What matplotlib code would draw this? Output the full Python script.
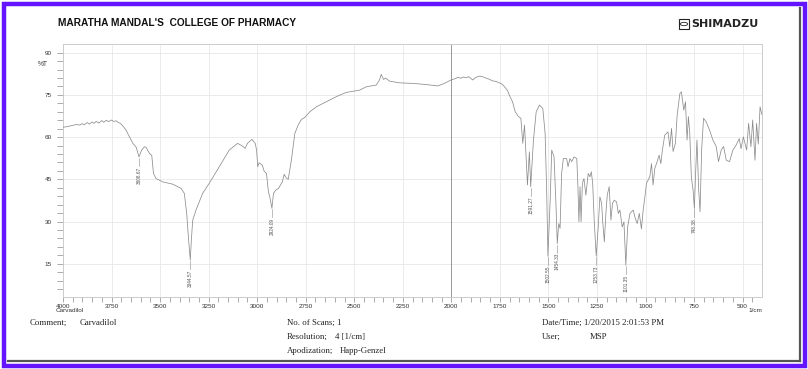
import numpy as np
import matplotlib
matplotlib.use("Agg")
import matplotlib.pyplot as plt
from matplotlib.patches import Rectangle, Circle
from matplotlib.lines import Line2D

# Spectrum (wavenumber 1/cm, %T)
wavenumber = [
    4000, 3975, 3950, 3930, 3914, 3900, 3890, 3875, 3865, 3850, 3840, 3829,
    3815, 3800, 3790, 3777, 3765, 3750, 3740, 3726, 3715, 3705, 3692, 3675,
    3658, 3640, 3623, 3608.67, 3595, 3580, 3572, 3563, 3551, 3543, 3534, 3521,
    3486, 3435, 3392, 3375, 3363, 3353, 3344.57, 3339, 3332, 3315, 3281, 3247,
    3195, 3144, 3101, 3075, 3062, 3050, 3027, 3010, 3003, 2997, 2990, 2973,
    2964, 2952, 2942, 2935, 2924.09, 2916, 2904, 2890, 2878, 2870, 2861, 2850,
    2840, 2824, 2806, 2789, 2772, 2755, 2729, 2695, 2644, 2592, 2541, 2473,
    2438, 2387, 2370, 2361, 2349, 2339, 2318, 2267, 2199, 2130, 2070, 2036,
    2002, 1980, 1965, 1950, 1940, 1925, 1910, 1890, 1875, 1856, 1840, 1822,
    1805, 1788, 1770, 1753, 1740, 1730, 1719, 1710, 1702, 1695, 1685, 1671,
    1654, 1642, 1632, 1623, 1608, 1598, 1591.27, 1577, 1563, 1546, 1529, 1517,
    1509, 1502.55, 1491, 1483, 1471, 1462, 1454.33, 1447, 1440, 1432, 1423,
    1406, 1399, 1389, 1380, 1368, 1354, 1348, 1343, 1337, 1332, 1325, 1317,
    1307, 1295, 1286, 1279, 1272, 1264, 1253.73, 1243, 1235, 1226, 1221, 1212,
    1204, 1197, 1187, 1178, 1170, 1161, 1149, 1140, 1132, 1120, 1111, 1101.35,
    1092, 1080, 1063, 1055, 1043, 1032, 1021, 1012, 1003, 995, 978, 969, 961,
    952, 940, 930, 921, 913, 901, 884, 875, 866, 858, 846, 837, 823, 815, 803,
    794, 786, 779, 772, 764, 755, 748.38, 742, 735, 726, 719, 711, 701, 688,
    671, 653, 636, 624, 610, 598, 584, 567, 550, 533, 517, 508, 496, 479, 469,
    457, 448, 436, 428, 419, 410, 404, 400,
]
transmittance = [
    63.5, 63.8, 64.2, 64.5, 64.3, 64.8, 64.4, 65.2, 64.6, 65.4, 64.9, 65.6,
    65.0, 65.9, 65.3, 66.0, 65.5, 66.1, 65.6, 65.8, 65.2, 64.9, 64.0, 62.5,
    60.1, 57.8, 56.4, 53.0, 55.4, 56.6, 56.4, 55.2, 53.9, 53.6, 47.1, 45.3,
    44.1, 43.3, 41.8, 40.0, 32.9, 23.4, 16.3, 23.4, 30.5, 34.1, 40.0, 43.6,
    49.5, 55.4, 57.8, 56.8, 56.0, 57.8, 59.2, 57.8, 55.4, 49.5, 50.9, 50.0,
    47.9, 47.1, 40.6, 38.8, 34.7, 40.0, 41.2, 41.8, 43.2, 44.2, 46.8, 45.5,
    45.0, 51.8, 61.3, 64.3, 66.3, 67.0, 69.0, 70.8, 72.6, 74.4, 75.9, 76.7,
    77.9, 78.5, 80.3, 82.3, 80.5, 81.0, 79.9, 79.3, 79.1, 78.7, 78.2, 79.1,
    80.3, 80.8, 81.3, 80.9, 81.4, 81.1, 81.5, 80.3, 81.2, 81.7, 81.5, 81.0,
    80.6, 80.0, 79.8, 79.3, 78.9, 78.2, 77.3, 76.5, 75.0, 74.0, 72.6, 69.0,
    67.3, 66.7, 57.8, 64.3, 43.0, 54.8, 42.4, 59.0, 69.0, 71.4, 70.2, 61.3,
    41.2, 17.7, 37.6, 55.4, 53.0, 37.6, 22.2, 29.3, 27.6, 47.1, 52.4,
    52.4, 49.5, 52.4, 51.3, 53.0, 52.4, 42.4, 29.9, 42.4, 29.9, 43.6, 45.3,
    39.4, 47.1, 45.9, 47.7, 43.6, 30.0, 17.7, 28.7, 38.8, 36.5, 30.5, 22.8,
    32.9, 39.4, 42.4, 30.5, 36.5, 37.6, 37.0, 32.9, 34.1, 28.1, 29.9, 14.5,
    28.1, 32.9, 34.1, 31.7, 29.3, 32.9, 27.4, 34.1, 38.8, 43.6, 45.9, 50.6,
    43.0, 48.9, 51.3, 53.6, 50.6, 55.4, 60.7, 61.9, 56.6, 63.1, 54.9, 57.8,
    67.8, 75.5, 76.1, 69.6, 72.6, 59.0, 67.3, 61.3, 45.9, 41.2, 34.7, 47.1,
    59.0, 41.2, 33.5, 55.4, 66.7, 65.5, 62.7, 59.0, 56.7, 51.3, 55.4, 56.7,
    51.8, 51.3, 55.4, 57.2, 59.5, 55.9, 60.1, 55.4, 64.9, 56.6, 66.1, 51.8,
    64.9, 57.5, 70.8, 69.0, 68.0,
]

peak_labels = ["3608.67", "3344.57", "2924.09", "1591.27", "1502.55",
               "1454.33", "1253.73", "1101.35", "748.38"]

x_major = np.arange(500, 4001, 250)
y_major = [15, 30, 45, 60, 75, 90]

W, H = 808, 369


def fx(px):
    return px / W


def fy(py):
    return 1 - py / H


plt.rcParams["font.family"] = ["Liberation Sans", "DejaVu Sans"]

fig = plt.figure(figsize=(W / 100, H / 100), dpi=100)
fig.patch.set_facecolor("white")
ax = fig.add_axes([fx(63), fy(297), fx(762) - fx(63), fy(44) - fy(297)])

# grid
for xv in x_major:
    ax.axvline(xv, color="#e8e8e8", lw=0.6, zorder=0)
for yv in y_major:
    ax.axhline(yv, color="#e8e8e8", lw=0.6, zorder=0)
ax.axvline(2000, color="#9a9a9a", lw=0.7, zorder=1)

ax.plot(wavenumber, transmittance, color="#8c8c8c", lw=0.55, zorder=3)

# peak labels
wn_rev = np.array(wavenumber[::-1], dtype=float)
tr_rev = np.array(transmittance[::-1], dtype=float)
for lab in peak_labels:
    w = float(lab)
    t = np.interp(w, wn_rev, tr_rev)
    ax.plot([w, w], [t - 0.4, t - 3.2], color="#8a8a8a", lw=0.4, zorder=3)
    ax.text(w, t - 3.4, lab, rotation=90, ha="center", va="top",
            fontsize=3.4, color="#555555", zorder=4)

ax.set_xlim(4000, 400)
ax.set_ylim(3.2, 93.1)
ax.set_xticks(x_major)
ax.set_xticklabels([str(v) for v in x_major])
ax.set_xticks(np.arange(450, 4001, 50), minor=True)
ax.set_yticks(y_major)
ax.set_yticks(np.arange(6, 93, 3), minor=True)
ax.tick_params(axis="both", which="both", direction="out", color="#888888",
               width=0.5, labelsize=4.6, labelcolor="#333333")
ax.tick_params(axis="y", which="both", length=4.5, pad=3.5)
ax.tick_params(axis="x", which="both", length=3.5, pad=1.5)
for sp in ax.spines.values():
    sp.set_color("#cccccc")
    sp.set_linewidth(0.7)

# texts around the axes
fig.text(fx(38), fy(64), "%T", fontsize=4.8, color="#333333", va="center")
fig.text(fx(56), fy(310), "Carvadilol", fontsize=4.6, color="#333333", va="center")
fig.text(fx(762), fy(310), "1/cm", fontsize=4.6, color="#333333", va="center", ha="right")

fig.text(fx(58), fy(23), "MARATHA MANDAL'S  COLLEGE OF PHARMACY", fontsize=7.3,
         fontweight="bold", va="center", color="#111111")

# SHIMADZU logo
fig.patches.append(Rectangle((fx(679), fy(29)), fx(10), fy(19) - fy(29),
                             transform=fig.transFigure, facecolor="white",
                             edgecolor="#222222", lw=0.8))
fig.patches.append(Circle((fx(684), fy(24)), 0.0045, transform=fig.transFigure,
                          facecolor="none", edgecolor="#222222", lw=0.6))
fig.text(fx(691), fy(24), "SHIMADZU", fontsize=8.0, fontweight="bold",
         family="DejaVu Sans", va="center", color="#222222")

# footer
serif = "Liberation Serif"
foot = dict(fontsize=6.3, family=serif, va="center", color="#222222")
fig.text(fx(30), fy(323), "Comment;", **foot)
fig.text(fx(80), fy(323), "Carvadilol", **foot)
fig.text(fx(287), fy(323), "No. of Scans; 1", **foot)
fig.text(fx(287), fy(337), "Resolution;", **foot)
fig.text(fx(335), fy(337), "4 [1/cm]", **foot)
fig.text(fx(287), fy(351), "Apodization;", **foot)
fig.text(fx(340), fy(351), "Happ-Genzel", **foot)
fig.text(fx(542), fy(323), "Date/Time; 1/20/2015 2:01:53 PM", **foot)
fig.text(fx(542), fy(337), "User;", **foot)
fig.text(fx(590), fy(337), "MSP", **foot)

# border with shadow
fig.add_artist(Line2D([fx(8), fx(800)], [fy(361), fy(361)], transform=fig.transFigure,
                      color="#555555", lw=1.6))
fig.add_artist(Line2D([fx(800), fx(800)], [fy(8), fy(361)], transform=fig.transFigure,
                      color="#555555", lw=1.6))
fig.patches.append(Rectangle((fx(3.5), fy(365.5)), fx(801), fy(3.5) - fy(365.5),
                             transform=fig.transFigure, facecolor="none",
                             edgecolor="#6414ff", lw=3.2))

fig.savefig("out.png", dpi=100)
